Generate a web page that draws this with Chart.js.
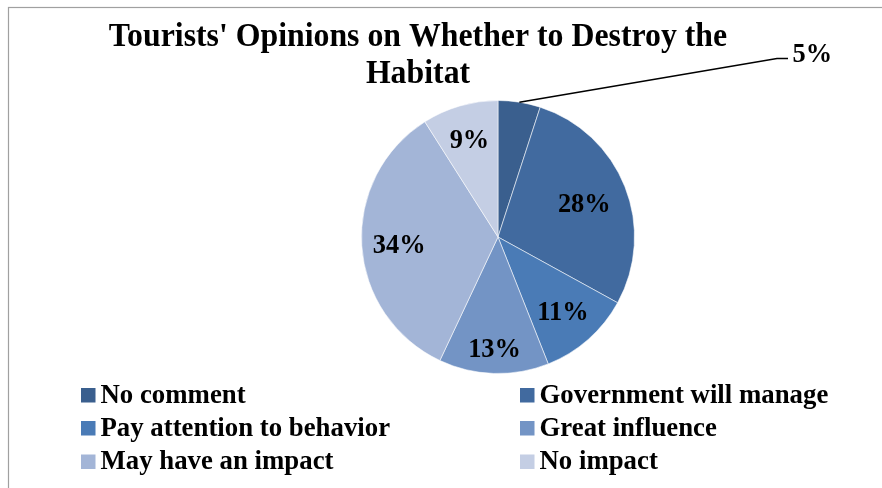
<!DOCTYPE html>
<html>
<head>
<meta charset="utf-8">
<script src="https://cdn.jsdelivr.net/npm/chart.js@4.4.1/dist/chart.umd.min.js"></script>
<style>
  html, body { margin: 0; padding: 0; background: #ffffff; }
  #wrap { position: relative; width: 882px; height: 488px; }
</style>
</head>
<body>
<div id="wrap"><canvas id="c" width="882" height="488"></canvas></div>
<script>
// ---- data ----
const titleLines = ["Tourists' Opinions on Whether to Destroy the", "Habitat"];
const categories = ["No comment", "Government will manage", "Pay attention to behavior", "Great influence", "May have an impact", "No impact"];
const values = [5, 28, 11, 13, 34, 9];
const valueLabels = ["5%", "28%", "11%", "13%", "34%", "9%"];

// ---- styles / layout ----
const colors = ["#3A5F8E", "#416A9F", "#4A7BB6", "#7394C5", "#A3B5D7", "#C4CEE4"];
const labelRadius = [null, 0.68, 0.72, 0.81, 0.725, 0.75]; // null = outside with leader
const FONT = "'Liberation Serif', 'Times New Roman', serif";

function stretchedText(ctx, text, x, y, sy) {
  ctx.save();
  ctx.translate(x, y);
  ctx.scale(1, sy);
  ctx.fillText(text, 0, 0);
  ctx.restore();
}

const overlay = {
  id: 'overlay',
  beforeDraw(chart) {
    const ctx = chart.ctx;
    ctx.save();
    ctx.fillStyle = '#ffffff';
    ctx.fillRect(0, 0, chart.width, chart.height);
    ctx.restore();
  },
  afterDraw(chart) {
    const ctx = chart.ctx;
    ctx.save();
    // frame
    ctx.strokeStyle = '#A0A0A0';
    ctx.lineWidth = 1.2;
    ctx.strokeRect(8.5, 7.5, 900, 500);

    // title
    ctx.fillStyle = '#000000';
    ctx.textAlign = 'center';
    ctx.textBaseline = 'alphabetic';
    ctx.font = 'bold 31.8px ' + FONT;
    stretchedText(ctx, titleLines[0], 418, 45.5, 1.06);
    stretchedText(ctx, titleLines[1], 418, 82.5, 1.06);

    // data labels
    const meta = chart.getDatasetMeta(0);
    ctx.font = 'bold 26.4px ' + FONT;
    meta.data.forEach((arc, i) => {
      const p = arc.getProps(['x', 'y', 'startAngle', 'endAngle', 'outerRadius'], true);
      const mid = (p.startAngle + p.endAngle) / 2;
      if (labelRadius[i] === null) {
        const sx = p.x + Math.cos(mid) * p.outerRadius;
        const sy = p.y + Math.sin(mid) * p.outerRadius;
        ctx.strokeStyle = '#000000';
        ctx.lineWidth = 1.5;
        ctx.beginPath();
        ctx.moveTo(sx, sy);
        ctx.lineTo(777, 58.5);
        ctx.lineTo(788, 58.5);
        ctx.stroke();
        ctx.textAlign = 'left';
        stretchedText(ctx, valueLabels[i], 792.5, 61.5, 1.05);
      } else {
        const r = p.outerRadius * labelRadius[i];
        const lx = p.x + Math.cos(mid) * r;
        const ly = p.y + Math.sin(mid) * r;
        ctx.textAlign = 'center';
        stretchedText(ctx, valueLabels[i], lx, ly + 9.5, 1.05);
      }
    });

    // legend (2 columns, 3 rows)
    const colX = [81, 520];
    const rowBase = [402.5, 435.5, 469];
    ctx.font = 'bold 26.8px ' + FONT;
    ctx.textAlign = 'left';
    categories.forEach((name, i) => {
      const col = i % 2, row = Math.floor(i / 2);
      const x = colX[col], b = rowBase[row];
      ctx.fillStyle = colors[i];
      ctx.fillRect(x, b - 14.5, 14.5, 14.5);
      ctx.fillStyle = '#000000';
      stretchedText(ctx, name, x + 19.5, b, 1.04);
    });
    ctx.restore();
  }
};

new Chart(document.getElementById('c'), {
  type: 'pie',
  data: {
    labels: categories,
    datasets: [{
      data: values,
      backgroundColor: colors,
      borderColor: 'rgba(255,255,255,0.55)',
      borderWidth: 1
    }]
  },
  options: {
    responsive: false,
    animation: false,
    layout: { padding: { left: 361, right: 247, top: 100, bottom: 114 } },
    plugins: {
      legend: { display: false },
      title: { display: false },
      tooltip: { enabled: false }
    }
  },
  plugins: [overlay]
});
</script>
</body>
</html>
